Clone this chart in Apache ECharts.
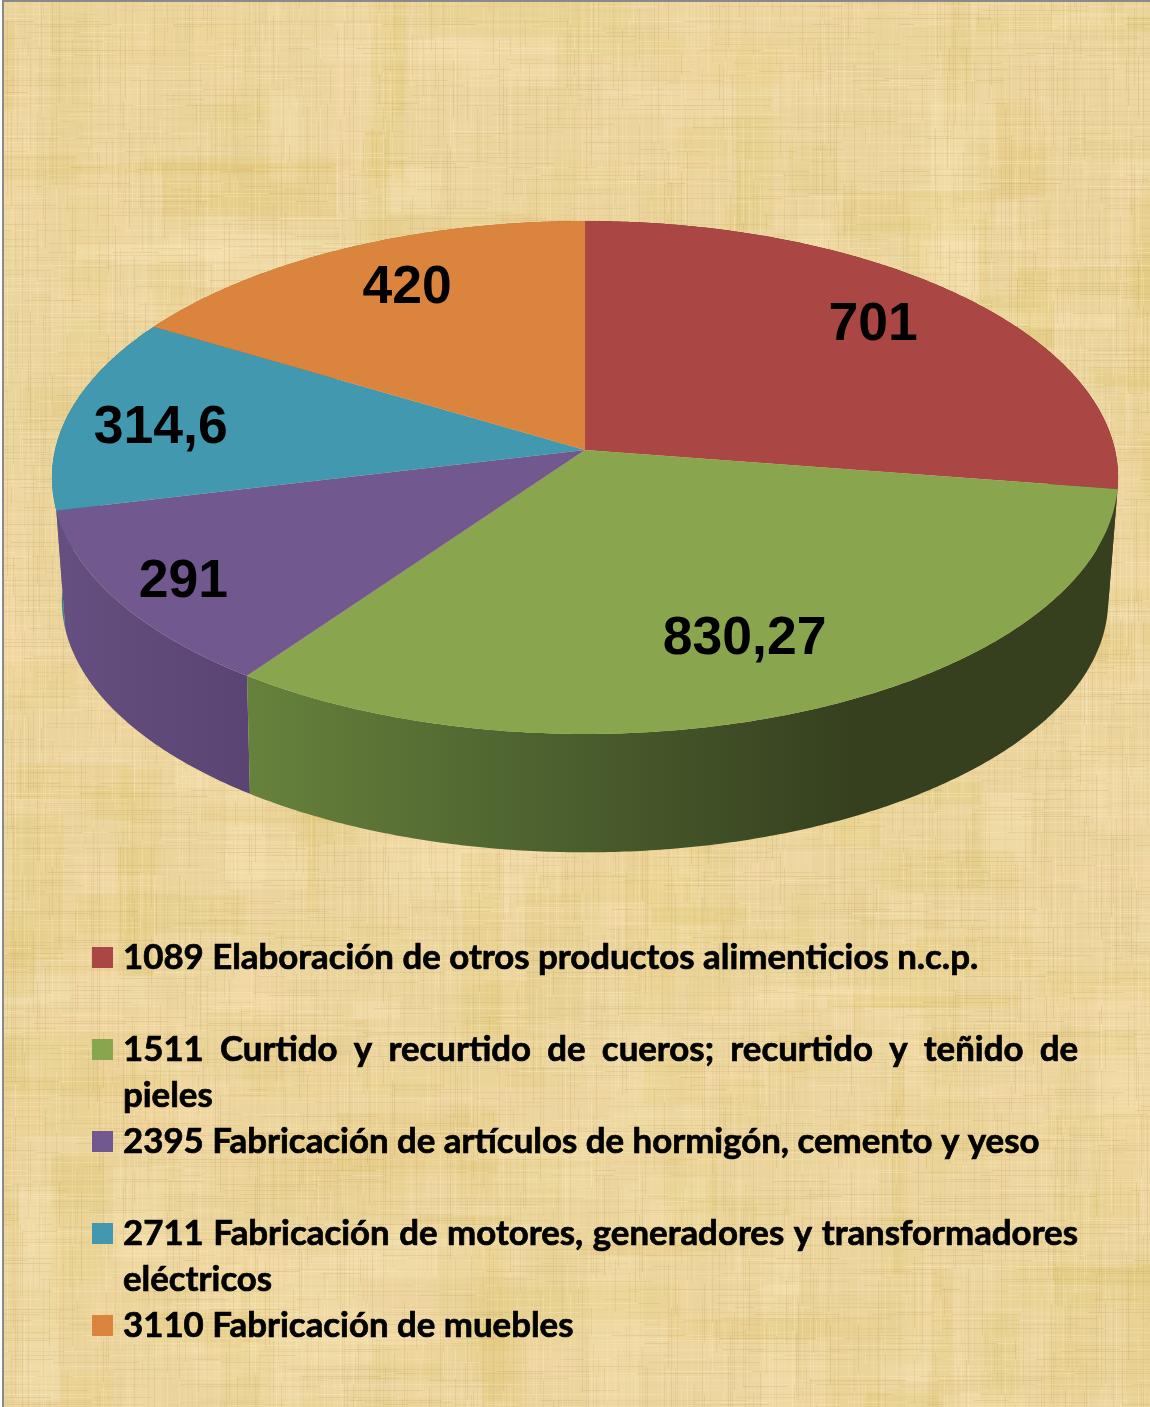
<!DOCTYPE html>
<html>
<head>
<meta charset="utf-8">
<title>Sectores</title>
<style>
html, body { margin: 0; padding: 0; background: #fff; }
#chart { width: 1150px; height: 1407px; }
</style>
<script src="https://cdn.jsdelivr.net/npm/echarts@6/dist/echarts.min.js"></script>
</head>
<body>
<div id="chart"></div>
<script>
// data
const sectorCodes = ['1089', '1511', '2395', '2711', '3110'];
const sectorValues = [701, 830.27, 291, 314.6, 420];
const topColors = ['#AA4644', '#89A54E', '#71588F', '#4198AF', '#DB843D'];
const legendLines = [
    ['1089 Elaboración de otros productos alimenticios n.c.p.'],
    ['1511 Curtido y recurtido de cueros; recurtido y teñido de', 'pieles'],
    ['2395 Fabricación de artículos de hormigón, cemento y yeso'],
    ['2711 Fabricación de motores, generadores y transformadores', 'eléctricos'],
    ['3110 Fabricación de muebles']
];

// where each value label sits on the pie face: radius fraction and angle shift in degrees
const labelRadius = [0.784, 0.737, 0.866, 0.815, 0.787];
const labelShift = [-2.2, 0.6, 0, -1.75, 2.3];

// side wall fills
const wallFills = [
    '#5c2625',
    { type: 'linear', x: 247, y: 0, x2: 850, y2: 0, global: true, colorStops: [
        { offset: 0, color: '#67823c' }, { offset: 0.45, color: '#4f6430' }, { offset: 1, color: '#36401f' }] },
    { type: 'linear', x: 60, y: 0, x2: 250, y2: 0, global: true, colorStops: [
        { offset: 0, color: '#654f80' }, { offset: 1, color: '#594473' }] },
    '#37808f',
    '#a9652e'
];

// perspective of the pie disc, fitted to the picture
const cx = 585, cy = 450, halfW = 530, halfH = 253.5, persp = 0.1072;
const lowerPersp = 0.12, depthY = 120, depthScale = 0.98;
const total = sectorValues.reduce((a, b) => a + b, 0);

const project = (deg, r, lower) => {
    const rad = deg * Math.PI / 180;
    const u = Math.sin(rad) * r, v = -Math.cos(rad) * r;
    const d = 1 - (lower ? lowerPersp : persp) * v;
    const s = lower ? depthScale : 1;
    return [cx + s * halfW * u / d, cy + (lower ? depthY : 0) + s * halfH * v / d];
};

const sliceAngles = (i) => {
    let before = 0;
    for (let k = 0; k < i; k++) before += sectorValues[k];
    return [before / total * 360, (before + sectorValues[i]) / total * 360];
};

const arc = (from, to, lower) => {
    const pts = [];
    const steps = Math.max(2, Math.ceil((to - from) * 2));
    for (let k = 0; k <= steps; k++) pts.push(project(from + (to - from) * k / steps, 1, lower));
    return pts;
};

const renderWall = (params) => {
    const i = params.dataIndex;
    const [a, b] = sliceAngles(i);
    const mid = (a + b) / 2;
    return {
        type: 'polygon',
        z2: Math.round(100 - Math.cos(mid * Math.PI / 180) * 100),
        shape: { points: arc(a, b, false).concat(arc(a, b, true).reverse()) },
        style: { fill: wallFills[i] }
    };
};

const renderTop = (params, api) => {
    const i = params.dataIndex;
    const [a, b] = sliceAngles(i);
    const spot = project((a + b) / 2 + labelShift[i], labelRadius[i], false);
    return {
        type: 'group',
        children: [
            {
                type: 'polygon',
                shape: { points: [project(0, 0, false)].concat(arc(a, b, false)) },
                style: { fill: topColors[i] }
            },
            {
                type: 'text',
                z2: 10,
                x: spot[0],
                y: spot[1] + 3,
                style: {
                    text: String(api.value(0)).replace('.', ','),
                    fill: '#000',
                    font: 'bold 53.5px "Liberation Sans", Arial, sans-serif',
                    textAlign: 'center',
                    textVerticalAlign: 'middle'
                }
            }
        ]
    };
};

// papyrus texture for the page, repeatable generator so the picture is stable
const paperTexture = () => {
    const raw = document.createElement('canvas');
    raw.width = 1150; raw.height = 1407;
    const g = raw.getContext('2d');
    let seed = 12345;
    const rnd = () => { seed = (seed * 1664525 + 1013904223) % 4294967296; return seed / 4294967296; };
    g.fillStyle = '#ebd59d';
    g.fillRect(0, 0, 1150, 1407);
    // patches, long in one direction
    for (let i = 0; i < 600; i++) {
        const kind = rnd();
        let color = 'rgba(222,198,112,';
        if (kind > 0.4) color = 'rgba(246,218,170,';
        if (kind > 0.75) color = 'rgba(252,232,185,';
        g.fillStyle = color + (0.08 + rnd() * 0.2) + ')';
        const tall = rnd() < 0.5;
        const w = tall ? 10 + rnd() * 50 : 40 + rnd() * 180;
        const h = tall ? 40 + rnd() * 180 : 10 + rnd() * 50;
        g.fillRect(Math.floor(rnd() * 1190 - 40), Math.floor(rnd() * 1447 - 40), w, h);
    }
    // fine weave
    const strand = () => {
        g.fillStyle = rnd() < 0.5
            ? 'rgba(190,155,90,' + (0.04 + rnd() * 0.18) + ')'
            : 'rgba(255,236,195,' + (0.08 + rnd() * 0.26) + ')';
    };
    for (let x = 0; x < 1150; x += 2 + Math.floor(rnd() * 3)) {
        for (let y = -40; y < 1407;) {
            const len = 15 + rnd() * 90;
            if (rnd() < 0.7) { strand(); g.fillRect(x, y, 1, len); }
            y += len;
        }
    }
    for (let y = 0; y < 1407; y += 2 + Math.floor(rnd() * 3)) {
        for (let x = -40; x < 1150;) {
            const len = 15 + rnd() * 90;
            if (rnd() < 0.7) { strand(); g.fillRect(x, y, len, 1); }
            x += len;
        }
    }
    // the reference is a soft upscaled image
    const c = document.createElement('canvas');
    c.width = 1150; c.height = 1407;
    const soft = c.getContext('2d');
    soft.filter = 'blur(0.5px)';
    soft.drawImage(raw, 0, 0);
    return c;
};

// legend: Lato stands in for the Calibri-like face of the reference
const legendFont = 'bold 34px Lato, "Open Sans", sans-serif';
const legendScale = 1.024;
const legendLeft = 123, legendRight = 1078, legendTop = 958, legendStep = 46;
const measure = document.createElement('canvas').getContext('2d');
measure.font = legendFont;
const textWidth = (t) => measure.measureText(t).width * legendScale;

const legendText = (text, x, y) => ({
    type: 'text',
    x: x,
    y: y,
    scaleX: legendScale,
    style: { text: text, fill: '#000', stroke: '#000', lineWidth: 0.7, font: legendFont, textVerticalAlign: 'middle' }
});

const legendGraphics = () => {
    const out = [];
    let row = 0;
    legendLines.forEach((lines, i) => {
        const y = legendTop + row * legendStep;
        out.push({
            type: 'rect',
            shape: { x: 92, y: y - 11, width: 21, height: 21 },
            style: { fill: topColors[i] }
        });
        lines.forEach((line, n) => {
            const ly = y + n * legendStep;
            if (lines.length > 1 && n === 0) {
                // first line of a wrapped item is justified
                const words = line.split(' ');
                const used = words.reduce((s, w) => s + textWidth(w), 0);
                const gap = (legendRight - legendLeft - used) / (words.length - 1);
                let x = legendLeft;
                words.forEach((w) => {
                    out.push(legendText(w, x, ly));
                    x += textWidth(w) + gap;
                });
            } else {
                out.push(legendText(line, legendLeft, ly));
            }
        });
        row += 2;
    });
    return out;
};

const frame = [
    { type: 'rect', shape: { x: 0, y: 0, width: 2, height: 1407 }, style: { fill: '#fff' } },
    { type: 'rect', shape: { x: 2, y: 0, width: 2, height: 1407 }, style: { fill: '#8a8a8a' } },
    { type: 'rect', shape: { x: 2, y: 0, width: 1148, height: 2 }, style: { fill: '#8a8a8a' } }
];

var myChart = echarts.init(document.getElementById('chart'), null, { renderer: 'canvas' });

myChart.setOption({
    animation: false,
    backgroundColor: { image: paperTexture(), repeat: 'no-repeat' },
    graphic: { elements: frame.concat(legendGraphics()) },
    series: [
        {
            name: 'walls',
            type: 'custom',
            coordinateSystem: 'none',
            z: 1,
            silent: true,
            renderItem: renderWall,
            data: sectorValues
        },
        {
            name: 'faces',
            type: 'custom',
            coordinateSystem: 'none',
            z: 2,
            silent: true,
            renderItem: renderTop,
            data: sectorValues
        }
    ]
});
</script>
</body>
</html>
